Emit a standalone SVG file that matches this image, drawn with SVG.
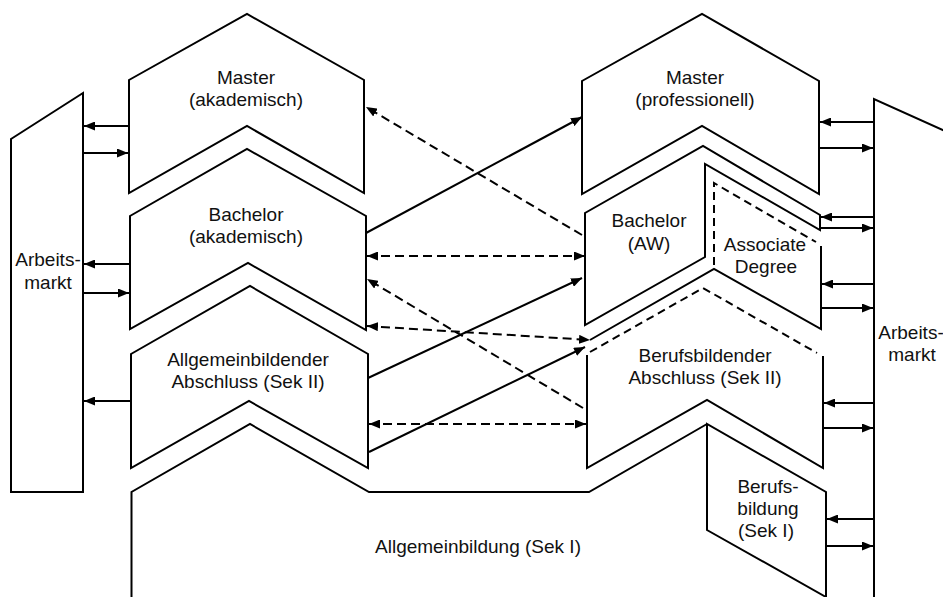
<svg xmlns="http://www.w3.org/2000/svg" width="943" height="597" viewBox="0 0 943 597">
  <style>
    .shape { fill: none; stroke: #000; stroke-width: 2; stroke-linejoin: miter; }
    .dash { fill: none; stroke: #000; stroke-width: 2; stroke-dasharray: 8 5; }
    .lbl { font-family: "Liberation Sans", Arial, sans-serif; font-size: 19px; fill: #111; text-anchor: middle; }
    .conn { fill: none; stroke: #000; stroke-width: 2; }
    .conn-d { fill: none; stroke: #000; stroke-width: 2; stroke-dasharray: 9 5; }
  </style>
  <defs>
    <marker id="ah" viewBox="0 0 11 9" refX="11" refY="4.5" markerWidth="11" markerHeight="9" markerUnits="userSpaceOnUse" orient="auto-start-reverse">
      <path d="M0,0 L11,4.5 L0,9 Z" fill="#000"/>
    </marker>
  </defs>
  <rect width="943" height="597" fill="#fff"/>

  <g id="arbeitsmarkt-left">
    <path class="shape" d="M11,139 L83,93 L83,492 L11,492 Z"/>
    <text class="lbl" x="48" y="266">Arbeits-</text>
    <text class="lbl" x="48" y="289">markt</text>
  </g>

  <g id="master-akademisch">
    <path class="shape" d="M129,80 L247,14 L364,80 L364,193 L247,126 L129,193 Z"/>
    <text class="lbl" x="246" y="84">Master</text>
    <text class="lbl" x="246" y="106">(akademisch)</text>
  </g>

  <g id="bachelor-akademisch">
    <path class="shape" d="M130,216 L247,149 L366,216 L366,330 L248,263 L130,329 Z"/>
    <text class="lbl" x="246" y="221">Bachelor</text>
    <text class="lbl" x="246" y="243">(akademisch)</text>
  </g>

  <g id="allgemeinbildender-abschluss">
    <path class="shape" d="M131,354 L250,286 L368,354 L368,468 L249,401 L131,468 Z"/>
    <text class="lbl" x="248" y="366">Allgemeinbildender</text>
    <text class="lbl" x="248" y="388">Abschluss (Sek II)</text>
  </g>

  <g id="allgemeinbildung-sek1">
    <path class="shape" d="M131.5,600 L131.5,492 L250,424 L369,492 L589,492 L707,424"/>
    <text class="lbl" x="478" y="553">Allgemeinbildung (Sek I)</text>
  </g>

  <g id="master-professionell">
    <path class="shape" d="M582,81 L702,14 L819,81 L819,194 L702,126 L582,194 Z"/>
    <text class="lbl" x="695" y="84">Master</text>
    <text class="lbl" x="695" y="106">(professionell)</text>
  </g>

  <g id="bachelor-aw">
    <path class="shape" d="M585,213 L703,146 L820,215 L820,230 L705,164 L705,257 L585,325 Z"/>
    <text class="lbl" x="649" y="227">Bachelor</text>
    <text class="lbl" x="649" y="250">(AW)</text>
  </g>

  <g id="associate-degree">
    <path class="dash" d="M714,265 L714,183 L816,242"/>
    <path class="shape" d="M821,246 L821,329 L714,269 L590,340"/>
    <text class="lbl" x="765" y="251">Associate</text>
    <text class="lbl" x="766" y="273">Degree</text>
  </g>

  <g id="berufsbildender-abschluss">
    <path class="dash" d="M590,352 L703,288 L817,353"/>
    <path class="shape" d="M587,355 L587,468 L707,400 L823,468 L823,356"/>
    <text class="lbl" x="705" y="362">Berufsbildender</text>
    <text class="lbl" x="705" y="384">Abschluss (Sek II)</text>
  </g>

  <g id="berufsbildung-sek1">
    <path class="shape" d="M826,600 L826,492 L707,424 L707,530 L826,597"/>
    <text class="lbl" x="768" y="493">Berufs-</text>
    <text class="lbl" x="768" y="515">bildung</text>
    <text class="lbl" x="766" y="537">(Sek I)</text>
  </g>

  <g id="arbeitsmarkt-right">
    <path class="shape" d="M874,600 L874,99 L945,131"/>
    <text class="lbl" x="911" y="339">Arbeits-</text>
    <text class="lbl" x="912" y="361">markt</text>
  </g>

  <g id="connectors">
    <!-- left labour market -->
    <line class="conn" x1="129" y1="126" x2="84" y2="126" marker-end="url(#ah)"/>
    <line class="conn" x1="83" y1="153" x2="128" y2="153" marker-end="url(#ah)"/>
    <line class="conn" x1="130" y1="264" x2="84" y2="264" marker-end="url(#ah)"/>
    <line class="conn" x1="83" y1="293" x2="129" y2="293" marker-end="url(#ah)"/>
    <line class="conn" x1="131" y1="401" x2="84" y2="401" marker-end="url(#ah)"/>
    <!-- right labour market -->
    <line class="conn" x1="874" y1="122" x2="820" y2="122" marker-end="url(#ah)"/>
    <line class="conn" x1="819" y1="148" x2="873" y2="148" marker-end="url(#ah)"/>
    <line class="conn" x1="874" y1="217" x2="821" y2="217" marker-end="url(#ah)"/>
    <line class="conn" x1="820" y1="228" x2="873" y2="228" marker-end="url(#ah)"/>
    <line class="conn" x1="874" y1="284" x2="822" y2="284" marker-end="url(#ah)"/>
    <line class="conn" x1="821" y1="308" x2="873" y2="308" marker-end="url(#ah)"/>
    <line class="conn" x1="874" y1="403" x2="824" y2="403" marker-end="url(#ah)"/>
    <line class="conn" x1="823" y1="428" x2="873" y2="428" marker-end="url(#ah)"/>
    <line class="conn" x1="874" y1="519" x2="827" y2="519" marker-end="url(#ah)"/>
    <line class="conn" x1="826" y1="546" x2="873" y2="546" marker-end="url(#ah)"/>
    <!-- middle transitions -->
    <line class="conn-d" x1="582" y1="235" x2="366" y2="107" marker-end="url(#ah)"/>
    <line class="conn" x1="366" y1="233" x2="582" y2="117" marker-end="url(#ah)"/>
    <line class="conn-d" x1="367" y1="256" x2="585" y2="256" marker-start="url(#ah)" marker-end="url(#ah)"/>
    <line class="conn" x1="368" y1="378" x2="582" y2="278" marker-end="url(#ah)"/>
    <line class="conn-d" x1="583" y1="408" x2="367" y2="279" marker-end="url(#ah)"/>
    <line class="conn-d" x1="367" y1="326" x2="590" y2="340" marker-start="url(#ah)" marker-end="url(#ah)"/>
    <line class="conn" x1="369" y1="452" x2="585" y2="347" marker-end="url(#ah)"/>
    <line class="conn-d" x1="369" y1="424" x2="586" y2="424" marker-start="url(#ah)" marker-end="url(#ah)"/>
  </g>
</svg>
